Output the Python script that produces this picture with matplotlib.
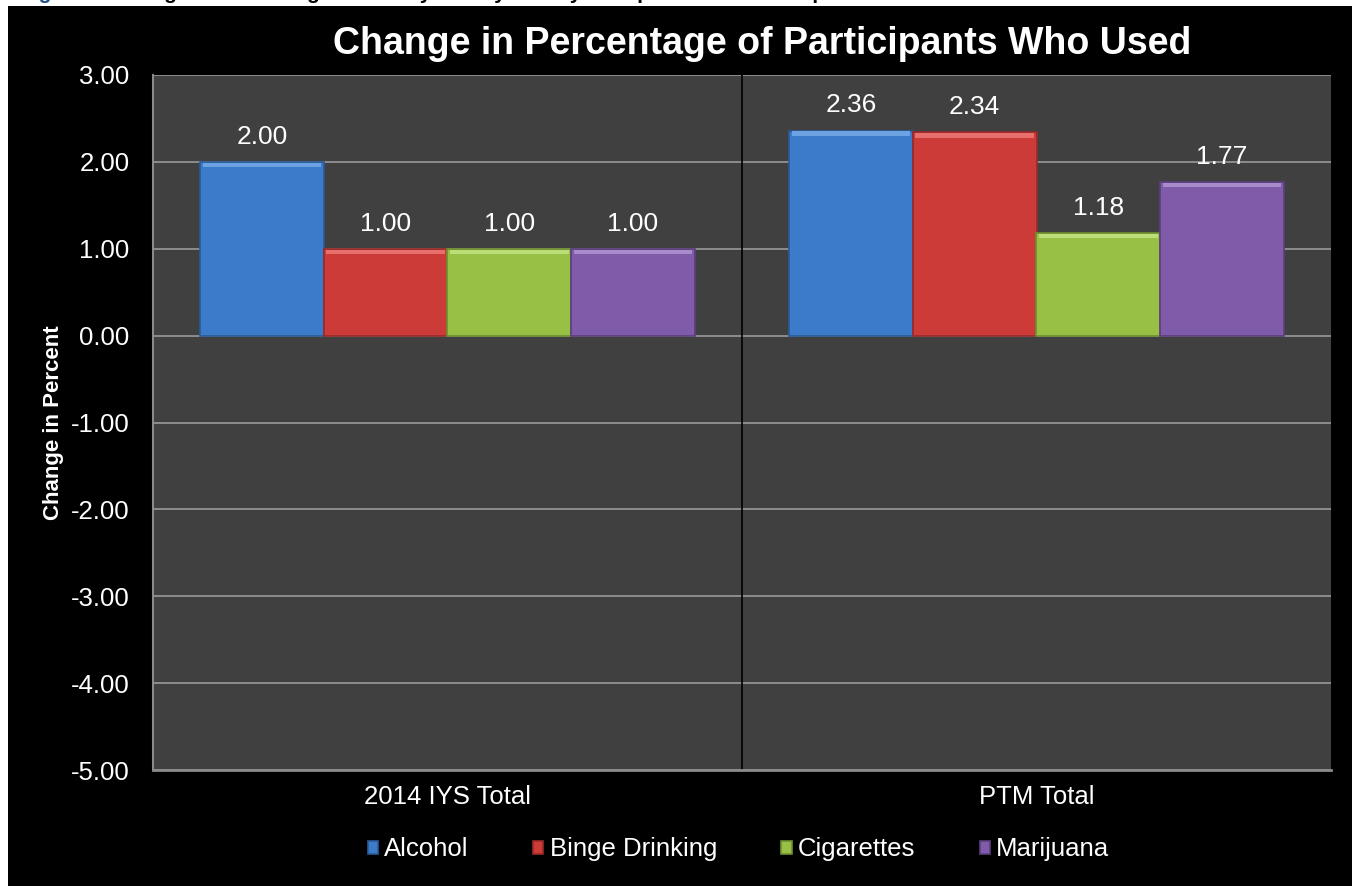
import numpy as np
import matplotlib
matplotlib.use("Agg")
import matplotlib.pyplot as plt
from matplotlib.patches import Rectangle

plt.rcParams['font.family'] = ['Liberation Sans', 'DejaVu Sans']

# data
groups = ['2014 IYS Total', 'PTM Total']
series = ['Alcohol', 'Binge Drinking', 'Cigarettes', 'Marijuana']
alcohol = [2.00, 2.36]
binge = [1.00, 2.34]
cigarettes = [1.00, 1.18]
marijuana = [1.00, 1.77]
values = [alcohol, binge, cigarettes, marijuana]
colors = ['#3b7bc9', '#cc3b37', '#98c044', '#7f5ba9']
edge_colors = ['#2a5a96', '#98292a', '#6f8f2f', '#5b3f7d']
top_colors = ['#6ea3e3', '#e8706c', '#bddd78', '#a88bcb']

W, H = 1353, 886
fig = plt.figure(figsize=(W / 100, H / 100), dpi=100, facecolor='white')
# black panel behind the chart
panel = Rectangle((8 / W, 0), 1 - 9 / W, 1 - 6 / H,
                  transform=fig.transFigure, facecolor='black',
                  edgecolor='none', zorder=-5)
fig.add_artist(panel)

# caption above the chart, cut off by the top edge as in the source
fig.text(20 / W, 1 + 1.5 / H, 'Figure 6:', color='#1f4e8c', fontsize=15,
         fontweight='bold', va='baseline', ha='left')
fig.text(112 / W, 1 + 1.5 / H,
         'Change in Percentage of 30-Day Use by Survey Group and PTM Participants',
         color='black', fontsize=15, fontweight='bold', va='baseline', ha='left')

ax = fig.add_axes([153 / W, 1 - 770 / H, 1178 / W, 695 / H])
ax.set_facecolor('#404040')

x = np.arange(len(groups))
width = 0.21
offsets = (np.arange(len(series)) - 1.5) * width

for i, name in enumerate(series):
    vals = np.array(values[i])
    ax.bar(x + offsets[i], vals, width, color=colors[i], edgecolor=edge_colors[i],
           linewidth=1.2, label=name, zorder=3)
    # bevel highlight along the top of each bar
    ax.bar(x + offsets[i], np.full_like(vals, 0.05), width * 0.96,
           bottom=vals - 0.06, color=top_colors[i], linewidth=0, zorder=4)
    for xi, v in zip(x + offsets[i], vals):
        ax.text(xi, v + 0.21, f'{v:.2f}', ha='center', va='baseline', color='white',
                fontsize=19, zorder=5)

ax.set_xlim(-0.5, 1.5)
ax.set_ylim(-5, 3)
ax.set_yticks(np.arange(-5, 4, 1))
ax.set_yticklabels([f'{t:.2f}' for t in np.arange(-5, 4, 1)])
ax.yaxis.grid(True, color='#9a9a9a', linewidth=1.2, zorder=1)
ax.set_axisbelow(True)
ax.axvline(0.5, color='black', linewidth=1.2, zorder=2)

ax.set_xticks(x)
ax.set_xticklabels(groups)
ax.tick_params(axis='both', colors='white', labelsize=18.5, length=0)
ax.tick_params(axis='x', pad=11)
ax.tick_params(axis='y', pad=17)
for side in ['top', 'right']:
    ax.spines[side].set_visible(False)
ax.spines['left'].set_color('#8a8a8a')
ax.spines['bottom'].set_color('#8a8a8a')
ax.spines['left'].set_linewidth(1.5)
ax.spines['bottom'].set_linewidth(2)

ax.set_ylabel('Change in Percent', color='white', fontsize=16, fontweight='bold')
ax.yaxis.set_label_coords(-(153 - 64) / 1178, 0.5)

fig.text(762 / W, 1 - 44 / H, 'Change in Percentage of Participants Who Used',
         ha='center', va='center', color='white', fontsize=27, fontweight='bold')

leg = ax.legend(loc='center', bbox_to_anchor=(0.497, -0.114), ncol=4, frameon=False,
                fontsize=18.5, handlelength=0.4, handleheight=0.4, columnspacing=2.5,
                handletextpad=0.25)
for t in leg.get_texts():
    t.set_color('white')

fig.savefig('out.png', dpi=100, facecolor=fig.get_facecolor())
